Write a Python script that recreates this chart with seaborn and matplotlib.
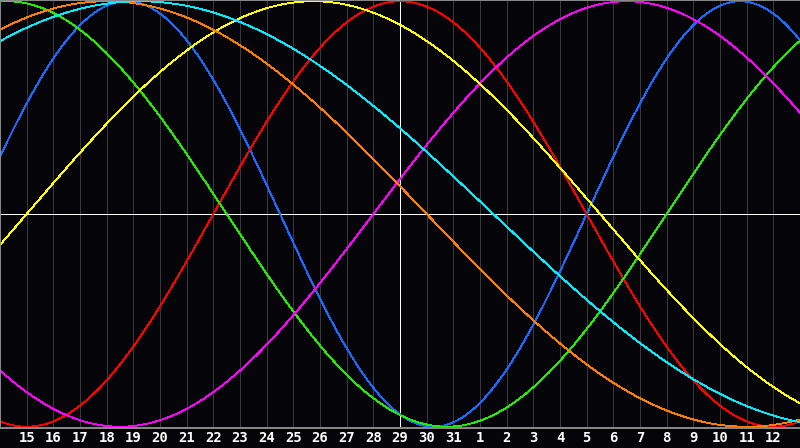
import numpy as np
import pandas as pd
import matplotlib
matplotlib.use("Agg")
import matplotlib.pyplot as plt
import seaborn as sns

# Biorhythm cycles: name, period (days), day of cycle on "today", colour
CYCLES = ["Physical", "Emotional", "Intellectual", "Intuitive", "Aesthetic", "Awareness", "Spiritual"]
PERIODS = [23, 28, 33, 38, 43, 48, 53]
CYCLE_DAY_TODAY = [16, 7, 23, 1, 14, 23, 23]
COLORS = ["#1a6bff", "#ff0000", "#22ee00", "#ff00ff", "#ffff00", "#ff7f00", "#00eeff"]

# 30-day window, today (the 29th) in the middle
DAY_LABELS = [15, 16, 17, 18, 19, 20, 21, 22, 23, 24, 25, 26, 27, 28, 29,
              30, 31, 1, 2, 3, 4, 5, 6, 7, 8, 9, 10, 11, 12]
TODAY_INDEX = 15  # position of the 29th, counted from the left edge

BG = "#050408"
PX = 0.72  # one pixel in points at 100 dpi

def build_frame():
    t = np.linspace(0, 30, 1201)
    rows = []
    for name, p, c in zip(CYCLES, PERIODS, CYCLE_DAY_TODAY):
        v = np.sin(2 * np.pi * (c + t - TODAY_INDEX) / p)
        rows.append(pd.DataFrame({"t": t, "value": v, "cycle": name}))
    return pd.concat(rows, ignore_index=True)

def main():
    sns.set_style("dark")
    plt.rcParams["font.family"] = ["DejaVu Sans Mono", "DejaVu Sans"]

    df = build_frame()
    fig = plt.figure(figsize=(8, 4.48), dpi=100, facecolor=BG)
    ax = fig.add_axes([0, 20 / 448, 1, 428 / 448], facecolor=BG)

    ticks = np.arange(1, len(DAY_LABELS) + 1)
    for x in ticks:
        ax.axvline(x, color="#3a3a3a", lw=PX, zorder=0, antialiased=False)

    ax.axhline(0, color="white", lw=PX, zorder=1, antialiased=False)
    ax.axvline(TODAY_INDEX, color="white", lw=PX, zorder=1, antialiased=False)

    sns.lineplot(data=df, x="t", y="value", hue="cycle", hue_order=CYCLES,
                 palette=COLORS, linewidth=0.6, legend=False, ax=ax,
                 zorder=2, estimator=None)
    for line in ax.lines:
        line.set_antialiased(False)

    ax.set_xlim(0, 30)
    ax.set_ylim(-1.006, 1.006)
    ax.set_xticks(ticks)
    ax.set_xticklabels([str(d) for d in DAY_LABELS], color="white",
                       fontsize=10, fontweight="bold")
    ax.tick_params(axis="x", length=0, pad=2)
    ax.set_yticks([])
    ax.set_xlabel("")
    ax.set_ylabel("")
    ax.grid(False)

    for side in ["left", "top", "bottom"]:
        ax.spines[side].set_visible(True)
        ax.spines[side].set_color("#8a8a8a")
        ax.spines[side].set_linewidth(1.4)
    ax.spines["right"].set_visible(False)

    fig.savefig("out.png", dpi=100, facecolor=BG)
    plt.close(fig)

if __name__ == "__main__":
    main()
